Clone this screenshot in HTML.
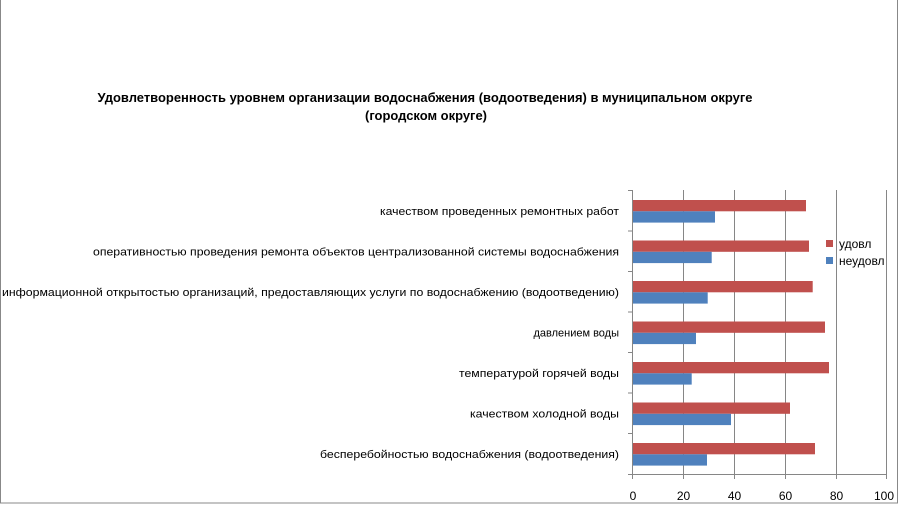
<!DOCTYPE html>
<html><head><meta charset="utf-8"><style>
html,body{margin:0;padding:0;background:#fff;}
svg{display:block;font-family:"Liberation Sans","DejaVu Sans",sans-serif;}
</style></head><body>
<svg width="900" height="505" viewBox="0 0 900 505" xmlns="http://www.w3.org/2000/svg">
<rect x="0.5" y="-1" width="897" height="504" fill="#fff" stroke="#888" stroke-width="1"/>
<g font-weight="bold" font-size="12.5" fill="#000" text-anchor="middle">
<text x="425" y="102" textLength="655" lengthAdjust="spacingAndGlyphs">Удовлетворенность уровнем организации водоснабжения (водоотведения) в муниципальном округе</text>
<text x="426" y="120" textLength="122" lengthAdjust="spacingAndGlyphs">(городском округе)</text>
</g>
<g stroke="#868686" stroke-width="1">
<line x1="683.5" y1="190" x2="683.5" y2="474"/>
<line x1="734.5" y1="190" x2="734.5" y2="474"/>
<line x1="785.5" y1="190" x2="785.5" y2="474"/>
<line x1="836.5" y1="190" x2="836.5" y2="474"/>
<line x1="886.5" y1="190" x2="886.5" y2="474"/>
<line x1="632.5" y1="190" x2="632.5" y2="479"/>
<line x1="628" y1="474.5" x2="887" y2="474.5"/>
<line x1="628" y1="190.5" x2="633" y2="190.5"/>
<line x1="628" y1="231" x2="633" y2="231"/>
<line x1="628" y1="271.5" x2="633" y2="271.5"/>
<line x1="628" y1="312" x2="633" y2="312"/>
<line x1="628" y1="352.5" x2="633" y2="352.5"/>
<line x1="628" y1="393" x2="633" y2="393"/>
<line x1="628" y1="433.5" x2="633" y2="433.5"/>
<line x1="683.5" y1="474" x2="683.5" y2="479"/>
<line x1="734.5" y1="474" x2="734.5" y2="479"/>
<line x1="785.5" y1="474" x2="785.5" y2="479"/>
<line x1="836.5" y1="474" x2="836.5" y2="479"/>
<line x1="886.5" y1="474" x2="886.5" y2="479"/>
</g>
<g fill="#c0504d">
<rect x="633" y="200" width="173" height="11.3"/>
<rect x="633" y="240.5" width="176" height="11.3"/>
<rect x="633" y="281" width="179.7" height="11.3"/>
<rect x="633" y="321.5" width="192" height="11.3"/>
<rect x="633" y="362" width="196" height="11.3"/>
<rect x="633" y="402.5" width="157" height="11.3"/>
<rect x="633" y="443" width="182" height="11.3"/>
</g>
<g fill="#4f81bd">
<rect x="633" y="211.3" width="82" height="11.3"/>
<rect x="633" y="251.8" width="78.7" height="11.3"/>
<rect x="633" y="292.3" width="74.7" height="11.3"/>
<rect x="633" y="332.8" width="63" height="11.3"/>
<rect x="633" y="373.3" width="58.7" height="11.3"/>
<rect x="633" y="413.8" width="98" height="11.3"/>
<rect x="633" y="454.3" width="74" height="11.3"/>
</g>
<g font-size="11" fill="#000" text-anchor="end">
<text x="619" y="215" textLength="239" lengthAdjust="spacingAndGlyphs">качеством проведенных ремонтных работ</text>
<text x="619" y="255.5" textLength="526" lengthAdjust="spacingAndGlyphs">оперативностью проведения ремонта объектов централизованной системы водоснабжения</text>
<text x="619" y="296" textLength="617" lengthAdjust="spacingAndGlyphs">информационной открытостью организаций, предоставляющих услуги по водоснабжению (водоотведению)</text>
<text x="619" y="336.5">давлением воды</text>
<text x="619" y="377" textLength="160" lengthAdjust="spacingAndGlyphs">температурой горячей воды</text>
<text x="619" y="417.5" textLength="149" lengthAdjust="spacingAndGlyphs">качеством холодной воды</text>
<text x="619" y="458" textLength="299" lengthAdjust="spacingAndGlyphs">бесперебойностью водоснабжения (водоотведения)</text>
</g>
<g font-size="12" fill="#000" text-anchor="middle">
<text x="633" y="500">0</text>
<text x="683.5" y="500">20</text>
<text x="734.5" y="500">40</text>
<text x="785.5" y="500">60</text>
<text x="836.5" y="500">80</text>
<text x="884" y="500">100</text>
</g>
<rect x="826" y="240" width="7" height="7" fill="#c0504d"/>
<rect x="826" y="257" width="7" height="7" fill="#4f81bd"/>
<g font-size="12" fill="#000">
<text x="839" y="248">удовл</text>
<text x="839" y="265">неудовл</text>
</g>
</svg>
</body></html>
